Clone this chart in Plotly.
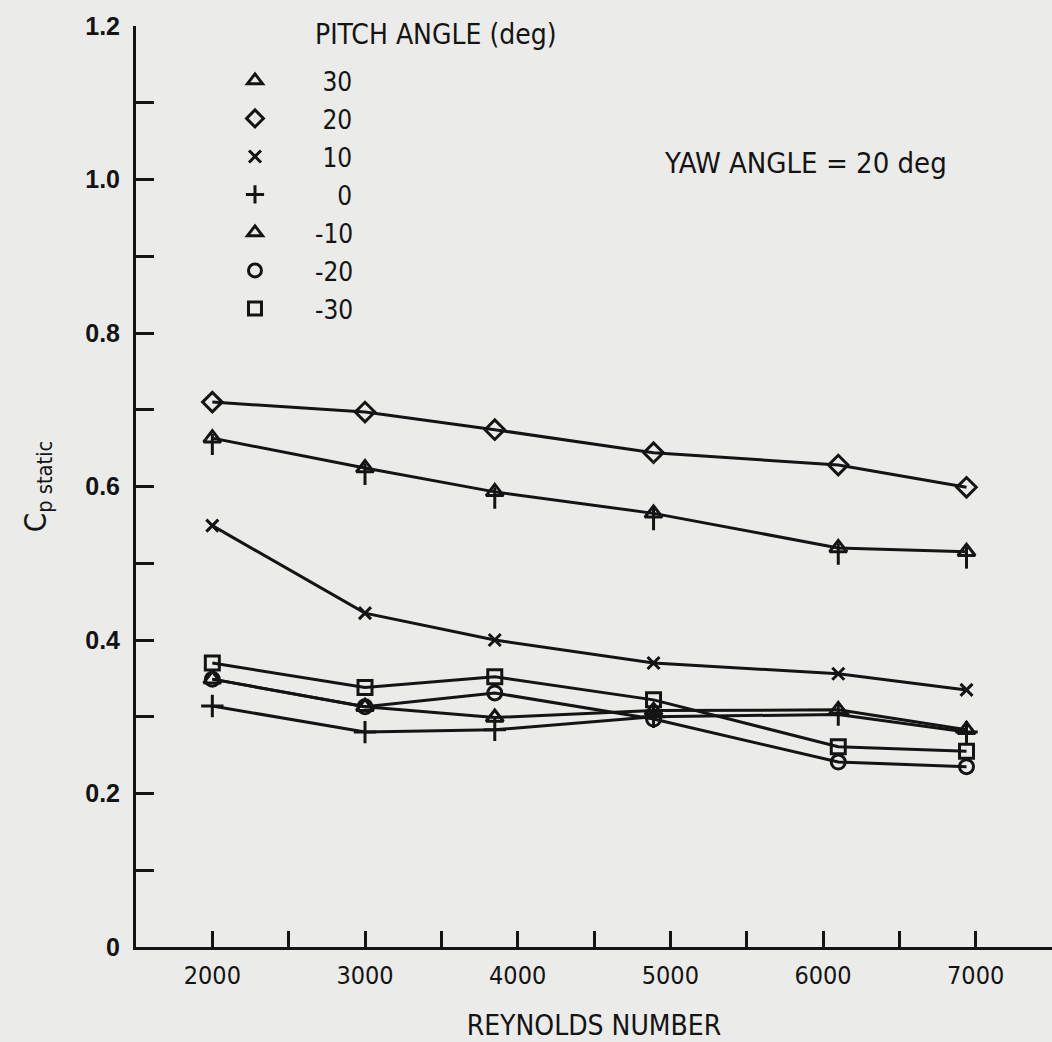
import plotly.graph_objects as go

# ---- data ----
reynolds = [2000, 3000, 3850, 4890, 6100, 6940]
pitch_labels = ["30", "20", "10", "0", "-10", "-20", "-30"]
cp_p30 = [0.663, 0.624, 0.593, 0.565, 0.520, 0.515]
cp_p20 = [0.710, 0.697, 0.674, 0.644, 0.628, 0.599]
cp_p10 = [0.549, 0.435, 0.400, 0.370, 0.356, 0.335]
cp_p0 = [0.314, 0.280, 0.283, 0.300, 0.303, 0.280]
cp_m10 = [0.349, 0.313, 0.299, 0.308, 0.309, 0.283]
cp_m20 = [0.349, 0.313, 0.331, 0.297, 0.241, 0.235]
cp_m30 = [0.370, 0.338, 0.352, 0.322, 0.261, 0.255]

x_ticks = [1500, 2000, 2500, 3000, 3500, 4000, 4500, 5000, 5500, 6000, 6500, 7000, 7500]
x_tick_text = ["", "2000", "", "3000", "", "4000", "", "5000", "", "6000", "", "7000", ""]
y_ticks = [0, 0.1, 0.2, 0.3, 0.4, 0.5, 0.6, 0.7, 0.8, 0.9, 1.0, 1.1, 1.2]
y_tick_text = ["0", "", "0.2", "", "0.4", "", "0.6", "", "0.8", "", "1.0", "", "1.2"]

INK = "#141414"
BG = "#ebebe9"
NARROW = "DejaVu Sans Condensed, Liberation Sans Narrow, DejaVu Sans, sans-serif"

series = [
    (cp_p30, "triangle-up-open", 15),
    (cp_p20, "diamond-open", 15),
    (cp_p10, "x-thin-open", 12),
    (cp_p0, "cross-thin-open", 16),
    (cp_m10, "triangle-up-open", 15),
    (cp_m20, "circle-open", 14),
    (cp_m30, "square-open", 14),
]

fig = go.Figure()

for i, (vals, sym, size) in enumerate(series):
    kw = {}
    if i == 0:
        kw["error_y"] = dict(type="constant", symmetric=False, value=0.006,
                             valueminus=0.022, width=0, thickness=3, color=INK)
    fig.add_trace(go.Scatter(
        x=reynolds, y=vals, mode="lines+markers",
        line=dict(color=INK, width=3),
        marker=dict(symbol=sym, size=size, color=INK, line=dict(color=INK, width=3)),
        showlegend=False, **kw))

# legend entries (markers only, right-aligned numbers)
pads = {"30": "\u00a0", "20": "\u00a0", "10": "\u00a0", "0": "\u2007\u00a0",
        "-10": "", "-20": "", "-30": ""}
for lab, (vals, sym, size) in zip(pitch_labels, series):
    fig.add_trace(go.Scatter(
        x=[None], y=[None], mode="markers", name=pads[lab] + lab,
        legendgroup=lab,
        marker=dict(symbol=sym, size=min(size, 13), color=INK,
                    line=dict(color=INK, width=3)),
        showlegend=True))

fig.update_layout(
    width=1052, height=1042,
    margin=dict(l=136, r=0, t=26, b=95),
    paper_bgcolor=BG, plot_bgcolor=BG,
    font=dict(family=NARROW, color=INK, size=26),
    showlegend=True,
    legend=dict(x=0.0644, y=0.9663, xanchor="left", yanchor="top",
                bgcolor="rgba(0,0,0,0)", itemwidth=110, tracegroupgap=1.2,
                font=dict(family=NARROW, size=26, color=INK),
                itemclick=False, itemdoubleclick=False),
    xaxis=dict(range=[1500, 7500], showgrid=False, zeroline=False,
               showline=True, linecolor=INK, linewidth=3,
               ticks="inside", ticklen=16, tickwidth=3, tickcolor=INK,
               tickvals=x_ticks, ticktext=x_tick_text, ticklabelstandoff=4,
               tickfont=dict(family=NARROW, size=25, color=INK),
               title=dict(text="REYNOLDS NUMBER", standoff=28,
                          font=dict(family=NARROW, size=28, color=INK))),
    yaxis=dict(range=[0, 1.2], showgrid=False, zeroline=False,
               showline=True, linecolor=INK, linewidth=3,
               ticks="inside", ticklen=18, tickwidth=3, tickcolor=INK,
               tickvals=y_ticks, ticktext=y_tick_text, ticklabelstandoff=8,
               tickfont=dict(family="Liberation Sans, Arial, sans-serif", size=25,
                             color=INK, weight="bold"),
               title=dict(text="C<sub>p static</sub>", standoff=30,
                          font=dict(family=NARROW, size=31, color=INK))),
    annotations=[
        dict(text="PITCH ANGLE (deg)", xref="paper", yref="paper",
             x=0.1932, y=0.9913, xanchor="left", yanchor="middle",
             showarrow=False, font=dict(family=NARROW, size=28, color=INK)),
        dict(text="YAW ANGLE = 20 deg", xref="paper", yref="paper",
             x=0.5742, y=0.8512, xanchor="left", yanchor="middle",
             showarrow=False, font=dict(family=NARROW, size=29, color=INK)),
    ],
)

fig.write_html("out.html", config={"displayModeBar": False},
               post_script="document.body.style.margin='0';")
